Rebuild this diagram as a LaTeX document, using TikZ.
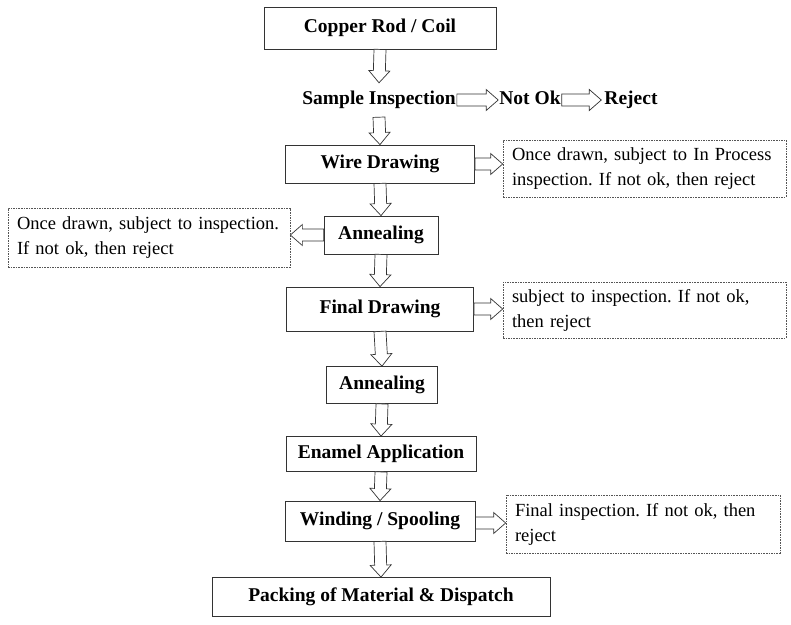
\documentclass[tikz,border=0pt]{standalone}
\usepackage{fontspec}
\setmainfont{Liberation Serif}
\usetikzlibrary{arrows,positioning,calc}
\frenchspacing

\definecolor{linegray}{HTML}{333333}
\definecolor{dashgray}{HTML}{555555}

\tikzset{
  stepbox/.style={draw=linegray, line width=0.8pt, align=center,
    font=\fontsize{19.5}{22}\selectfont\bfseries},
  plaintext/.style={inner xsep=1pt, inner ysep=0pt, text height=13pt, text depth=5pt,
    font=\fontsize{19.5}{22}\selectfont\bfseries},
  notebox/.style={draw=dashgray, line width=0.7pt, dash pattern=on 1.6pt off 1pt,
    align=left, inner xsep=9pt, font=\fontsize{18.5}{25}\selectfont},
  blockarrow/.style={draw=linegray, fill=white, line width=0.7pt, line join=miter,
    to path={let \p1=($(\tikztotarget)-(\tikztostart)$),
                 \n1={atan2(\y1,\x1)}, \n2={veclen(\x1,\y1)} in
      ([shift={(\tikztostart)},rotate=\n1]0pt,6pt)
      -- ([shift={(\tikztostart)},rotate=\n1]{\n2-12pt},6pt)
      -- ([shift={(\tikztostart)},rotate=\n1]{\n2-12pt},10.5pt)
      -- ([shift={(\tikztostart)},rotate=\n1]{\n2},0pt)
      -- ([shift={(\tikztostart)},rotate=\n1]{\n2-12pt},-10.5pt)
      -- ([shift={(\tikztostart)},rotate=\n1]{\n2-12pt},-6pt)
      -- ([shift={(\tikztostart)},rotate=\n1]0pt,-6pt) -- cycle}}
}

\begin{document}
\begin{tikzpicture}[x=1pt,y=-1pt]

    \useasboundingbox (0,0) rectangle (791,624);

    % main flow
    \node[stepbox, minimum width=232pt, minimum height=42pt] (copper_rod) at (380,28) {Copper Rod / Coil};
    \node[plaintext, inner ysep=8pt] (sample_insp) at (379,100) {Sample Inspection};
    \node[plaintext] (not_ok) at (530,100) {Not Ok};
    \node[plaintext] (reject) at (631,100) {Reject};
    \node[stepbox, minimum width=189pt, minimum height=38pt] (wire_drawing) at (380,164) {Wire Drawing};
    \node[stepbox, minimum width=114pt, minimum height=38pt] (annealing_1) at (381,235) {Annealing};
    \node[stepbox, minimum width=187pt, minimum height=44pt] (final_drawing) at (380,309) {Final Drawing};
    \node[stepbox, minimum width=111pt, minimum height=37pt] (annealing_2) at (382,385) {Annealing};
    \node[stepbox, minimum width=190pt, minimum height=35pt] (enamel) at (381,454) {Enamel Application};
    \node[stepbox, minimum width=190pt, minimum height=40pt] (winding) at (380,521) {Winding / Spooling};
    \node[stepbox, minimum width=338pt, minimum height=39pt] (packing) at (381,597) {Packing of Material \& Dispatch};

    % inspection notes
    \node[notebox, text width=265pt, minimum height=57pt] (note_wire) at (644.5,168.5)
        {Once drawn, subject to In Process\\inspection. If not ok, then reject};
    \node[notebox, text width=264pt, minimum height=59pt] (note_anneal) at (149,237.5)
        {Once drawn, subject to inspection.\\If not ok, then reject};
    \node[notebox, text width=265pt, minimum height=56pt] (note_final) at (644.5,310)
        {subject to inspection. If not ok,\\then reject};
    \node[notebox, text width=256pt, minimum height=58pt] (note_winding) at (643,524)
        {Final inspection. If not ok, then\\reject};

    % arrows
    \draw[blockarrow] (copper_rod.south) to (sample_insp.north);
    \draw[blockarrow] (sample_insp.east) to (not_ok.west);
    \draw[blockarrow] (not_ok.east) to ([xshift=-2pt]reject.west);
    \draw[blockarrow] (sample_insp.south) to (wire_drawing.north);
    \draw[blockarrow] (wire_drawing.east) to (wire_drawing.east -| note_wire.west);
    \draw[blockarrow] (wire_drawing.south) to (annealing_1.north);
    \draw[blockarrow] (annealing_1.west) to (annealing_1.west -| note_anneal.east);
    \draw[blockarrow] (annealing_1.south) to (final_drawing.north);
    \draw[blockarrow] (final_drawing.east) to (final_drawing.east -| note_final.west);
    \draw[blockarrow] (final_drawing.south) to (annealing_2.north);
    \draw[blockarrow] (annealing_2.south) to (enamel.north);
    \draw[blockarrow] (enamel.south) to (winding.north);
    \draw[blockarrow] ([yshift=-2pt]winding.east) to ([yshift=-2pt]winding.east -| note_winding.west);
    \draw[blockarrow] (winding.south) to (packing.north);
\end{tikzpicture}
\end{document}
